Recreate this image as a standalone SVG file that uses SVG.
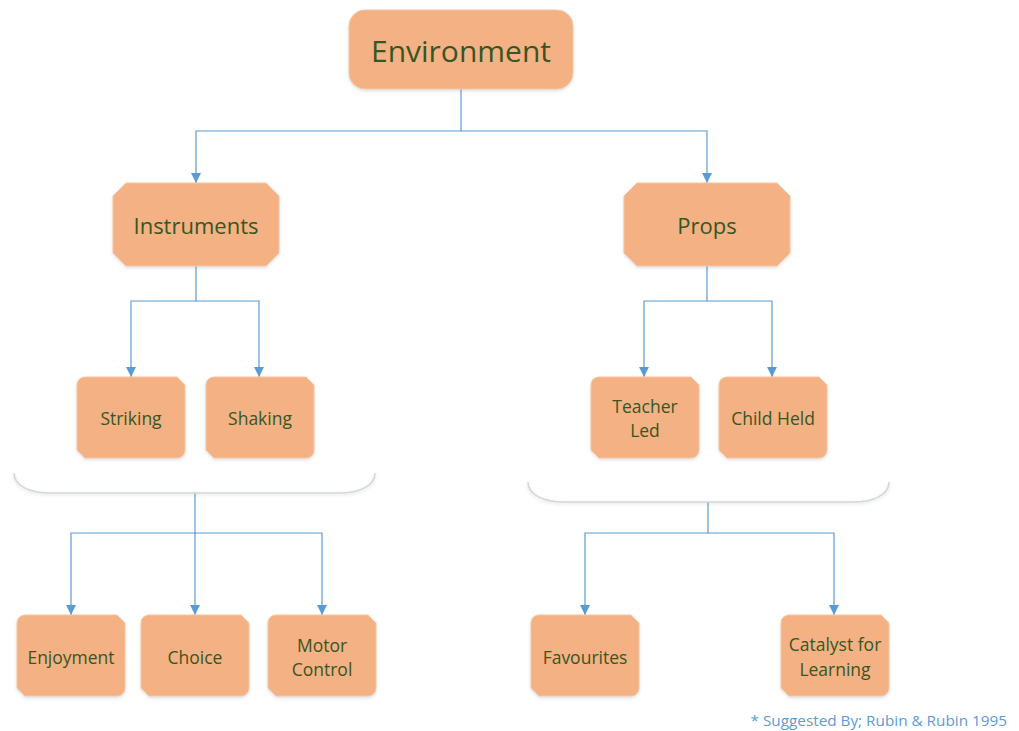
<svg xmlns="http://www.w3.org/2000/svg" width="1019" height="731" viewBox="0 0 1019 731">
  <style>
    .node { fill: #f4b183; stroke: #f7c6a3; stroke-width: 1; filter: url(#soft); }
    .label { font-family: "Open Sans", "Liberation Sans", sans-serif; fill: #375623; text-anchor: middle; dominant-baseline: central; }
    .big { font-size: 30px; }
    .mid { font-size: 22px; }
    .small { font-size: 17.5px; }
    .wire { fill: none; stroke: #5b9bd5; stroke-width: 1.2; }
    .arrow { marker-end: url(#head); }
    .brace { fill: none; stroke: #d6d6d6; stroke-width: 1.5; filter: url(#soft); }
    .note { font-family: "Open Sans", "Liberation Sans", sans-serif; font-size: 15.3px; fill: #5b9bd5; text-anchor: end; }
  </style>
  <defs>
    <filter id="soft" x="-10%" y="-10%" width="120%" height="130%">
      <feDropShadow dx="0" dy="1.5" stdDeviation="1.5" flood-color="#6a7f99" flood-opacity="0.25"/>
    </filter>
    <marker id="head" viewBox="0 0 10 10" markerUnits="userSpaceOnUse" markerWidth="10" markerHeight="10" refX="10" refY="5" orient="auto">
      <path d="M0,0 L10,5 L0,10 Z" fill="#5b9bd5"/>
    </marker>
  </defs>
  <rect width="1019" height="731" fill="#ffffff"/>

  <!-- connectors -->
  <g id="connectors">
    <path class="wire arrow" d="M461,89 V131 H196 V183"/>
    <path class="wire arrow" d="M461,131 H707 V183"/>
    <path class="wire arrow" d="M196,266 V301 H131 V377"/>
    <path class="wire arrow" d="M196,301 H259 V377"/>
    <path class="wire arrow" d="M707,266 V301 H644 V377"/>
    <path class="wire arrow" d="M707,301 H772 V377"/>
    <path class="wire arrow" d="M195,493 V533 H71 V615"/>
    <path class="wire arrow" d="M195,533 V615"/>
    <path class="wire arrow" d="M195,533 H322 V615"/>
    <path class="wire arrow" d="M708,502 V533 H585 V615"/>
    <path class="wire arrow" d="M708,533 H834 V615"/>
  </g>

  <!-- grouping braces under each pair -->
  <g id="brace-instruments">
    <path class="brace" d="M14,473 C14,486 30,493 50,493 H339 C359,493 375,486 375,473"/>
  </g>
  <g id="brace-props">
    <path class="brace" d="M528,482 C528,495 544,502 564,502 H853 C873,502 889,495 889,482"/>
  </g>

  <!-- root -->
  <g id="environment">
    <rect class="node" x="349" y="10" width="224" height="79" rx="16"/>
    <text class="label big" x="461" y="50">Environment</text>
  </g>

  <!-- second level -->
  <g id="instruments">
    <path class="node" d="M126,183 H266 L279,196 V253 L266,266 H126 L113,253 V196 Z"/>
    <text class="label mid" x="196" y="225">Instruments</text>
  </g>
  <g id="props">
    <path class="node" d="M637,183 H777 L790,196 V253 L777,266 H637 L624,253 V196 Z"/>
    <text class="label mid" x="707" y="225">Props</text>
  </g>

  <!-- third level -->
  <g id="striking">
    <path class="node" d="M85,377 H177 L185,385 V450 A8,8 0 0 1 177,458 H85 L77,450 V385 A8,8 0 0 1 85,377 Z"/>
    <text class="label small" x="131" y="418">Striking</text>
  </g>
  <g id="shaking">
    <path class="node" d="M214,377 H306 L314,385 V450 A8,8 0 0 1 306,458 H214 L206,450 V385 A8,8 0 0 1 214,377 Z"/>
    <text class="label small" x="260" y="418">Shaking</text>
  </g>
  <g id="teacher-led">
    <path class="node" d="M599,377 H691 L699,385 V450 A8,8 0 0 1 691,458 H599 L591,450 V385 A8,8 0 0 1 599,377 Z"/>
    <text class="label small" x="645" y="406">Teacher</text>
    <text class="label small" x="645" y="430">Led</text>
  </g>
  <g id="child-held">
    <path class="node" d="M727,377 H819 L827,385 V450 A8,8 0 0 1 819,458 H727 L719,450 V385 A8,8 0 0 1 727,377 Z"/>
    <text class="label small" x="773" y="418">Child Held</text>
  </g>

  <!-- outcomes -->
  <g id="enjoyment">
    <path class="node" d="M25,615 H117 L125,623 V688 A8,8 0 0 1 117,696 H25 L17,688 V623 A8,8 0 0 1 25,615 Z"/>
    <text class="label small" x="71" y="657">Enjoyment</text>
  </g>
  <g id="choice">
    <path class="node" d="M149,615 H241 L249,623 V688 A8,8 0 0 1 241,696 H149 L141,688 V623 A8,8 0 0 1 149,615 Z"/>
    <text class="label small" x="195" y="657">Choice</text>
  </g>
  <g id="motor-control">
    <path class="node" d="M276,615 H368 L376,623 V688 A8,8 0 0 1 368,696 H276 L268,688 V623 A8,8 0 0 1 276,615 Z"/>
    <text class="label small" x="322" y="645">Motor</text>
    <text class="label small" x="322" y="669">Control</text>
  </g>
  <g id="favourites">
    <path class="node" d="M539,615 H631 L639,623 V688 A8,8 0 0 1 631,696 H539 L531,688 V623 A8,8 0 0 1 539,615 Z"/>
    <text class="label small" x="585" y="657">Favourites</text>
  </g>
  <g id="catalyst">
    <path class="node" d="M789,615 H881 L889,623 V688 A8,8 0 0 1 881,696 H789 L781,688 V623 A8,8 0 0 1 789,615 Z"/>
    <text class="label small" x="835" y="644">Catalyst for</text>
    <text class="label small" x="835" y="669">Learning</text>
  </g>

  <text class="note" x="1007" y="726">* Suggested By; Rubin &amp; Rubin 1995</text>
</svg>
